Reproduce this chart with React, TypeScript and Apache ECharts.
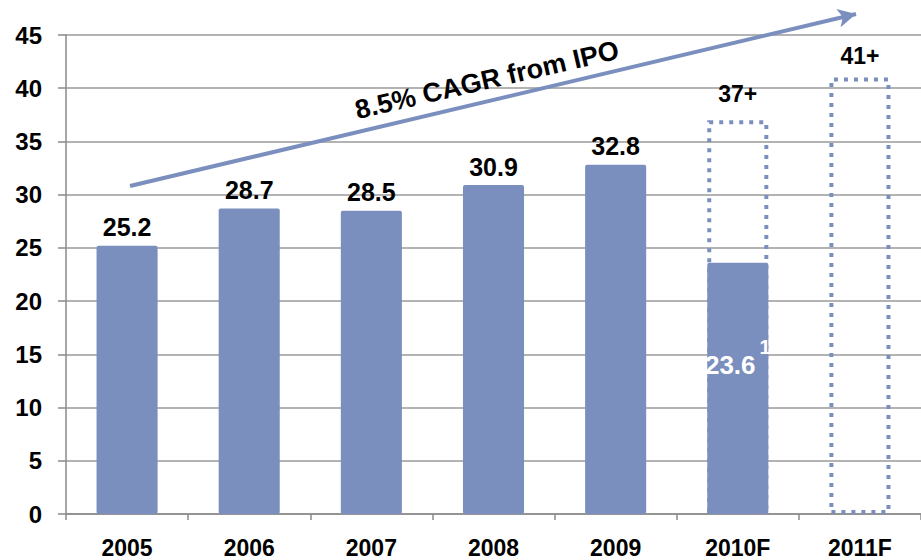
import React, { useEffect, useRef } from "react";
import * as echarts from "echarts";

const categories = ["2005", "2006", "2007", "2008", "2009", "2010F", "2011F"];
const actualValues: (number | null)[] = [25.2, 28.7, 28.5, 30.9, 32.8, 23.6, null];
const forecastValues: (number | null)[] = [null, null, null, null, null, 37, 41];
const forecastLabels = ["", "", "", "", "", "37+", "41+"];
const yTicks = { min: 0, max: 45, interval: 5 };
const cagrText = "8.5% CAGR from IPO";

const BAR = "#7B8FBE";
const FONT = "'Liberation Sans', Arial, sans-serif";

export default function App() {
  const ref = useRef<HTMLDivElement>(null);
  useEffect(() => {
    if (!ref.current) return;
    const chart = echarts.init(ref.current, undefined, { renderer: "svg" });
    chart.setOption({
      animation: false,
      grid: { left: 66, right: -2, top: 35, bottom: 46 },
      xAxis: {
        type: "category",
        data: categories,
        axisLine: { lineStyle: { color: "#8a8a8a", width: 1.5 } },
        axisTick: { show: true, length: 6, lineStyle: { color: "#8a8a8a", width: 1.5 } },
        axisLabel: { color: "#000", fontFamily: FONT, fontWeight: "bold", fontSize: 23, margin: 22 },
      },
      yAxis: {
        type: "value",
        min: yTicks.min,
        max: yTicks.max,
        interval: yTicks.interval,
        axisLine: { show: true, lineStyle: { color: "#8a8a8a", width: 1.5 } },
        axisTick: { show: true, length: 8, lineStyle: { color: "#8a8a8a", width: 1.5 } },
        splitLine: { lineStyle: { color: "#9a9a9a", width: 1.5 } },
        axisLabel: { color: "#000", fontFamily: FONT, fontWeight: "bold", fontSize: 24, margin: 24 },
      },
      series: [
        {
          type: "bar",
          data: forecastValues.map((v, i) => ({
            value: v,
            label: {
              show: v != null,
              position: "top",
              distance: i === 5 ? 15 : 10,
              formatter: forecastLabels[i],
              color: "#000",
              fontFamily: FONT,
              fontWeight: "bold",
              fontSize: 23,
            },
          })),
          barWidth: "50%",
          barGap: "-100%",
          itemStyle: {
            color: "rgba(0,0,0,0)",
            borderColor: BAR,
            borderWidth: 4,
            borderType: [4, 6],
          },
          z: 2,
        },
        {
          type: "bar",
          data: actualValues.map((v, i) => ({
            value: v,
            label:
              i === 5
                ? {
                    show: true,
                    position: "inside",
                    offset: [0, -23],
                    formatter: "{v|" + v + "}{s|1}",
                    rich: {
                      v: { color: "#fff", fontFamily: FONT, fontWeight: "bold", fontSize: 26 },
                      s: { color: "#fff", fontFamily: FONT, fontWeight: "bold", fontSize: 20, padding: [0, 0, 36, 4] },
                    },
                  }
                : {
                    show: v != null,
                    position: "top",
                    distance: 6,
                    color: "#000",
                    fontFamily: FONT,
                    fontWeight: "bold",
                    fontSize: 25,
                  },
          })),
          barWidth: "50%",
          itemStyle: { color: BAR, borderRadius: 2 },
          z: 3,
          markLine: {
            silent: true,
            symbol: ["none", "arrow"],
            symbolSize: [14, 18],
            label: { show: false },
            lineStyle: { color: BAR, width: 4, type: "solid" },
            data: [[{ x: 130, y: 186 }, { x: 856, y: 14 }]],
          },
        },
      ],
      graphic: [
        {
          type: "text",
          x: 487,
          y: 80,
          rotation: (13 * Math.PI) / 180,
          style: {
            text: cagrText,
            fontFamily: FONT,
            fontWeight: "bold",
            fontSize: 27,
            fill: "#000",
            textAlign: "center",
            textVerticalAlign: "middle",
          },
          z: 10,
        },
      ],
    });
    return () => chart.dispose();
  }, []);
  return (
    <div
      ref={ref}
      style={{ position: "fixed", left: 0, top: 0, width: 921, height: 560, background: "#fff" }}
    />
  );
}
